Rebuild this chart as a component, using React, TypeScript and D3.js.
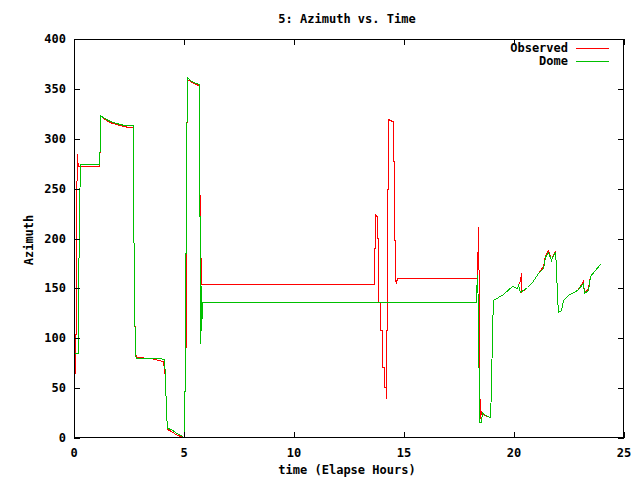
import React from "react";
import * as d3 from "d3";

const title = "5: Azimuth vs. Time";
const xLabel = "time (Elapse Hours)";
const yLabel = "Azimuth";
const seriesNames = ["Observed", "Dome"];
const seriesColors = ["#ff0000", "#00c000"];
const xTicks = [0, 5, 10, 15, 20, 25];
const yTicks = [0, 50, 100, 150, 200, 250, 300, 350, 400];

const obsTime = [0.0, 0.03, 0.03, 0.05, 0.06, 0.08, 0.1, 0.12, 0.14, 0.17, 1.14, 1.16, 1.19, 1.22, 1.3, 1.45, 1.6, 1.75, 1.9, 2.05, 2.25, 2.45, 2.68, 2.7, 2.73, 2.76, 2.8, 3.5, 3.8, 4.05, 4.12, 4.18, 4.24, 4.4, 4.55, 4.7, 4.85, 5.0, 5.04, 5.09, 5.11, 5.14, 5.25, 5.35, 5.5, 5.66, 5.69, 5.7, 5.72, 5.75, 5.78, 13.65, 13.65, 13.68, 13.68, 13.73, 13.75, 13.75, 13.82, 13.82, 13.91, 13.91, 14.0, 14.0, 14.09, 14.09, 14.16, 14.16, 14.2, 14.2, 14.25, 14.25, 14.27, 14.27, 14.45, 14.5, 14.5, 14.55, 14.55, 14.59, 14.59, 14.64, 14.68, 18.3, 18.32, 18.35, 18.37, 18.39, 18.41, 18.44, 18.5, 18.6, 18.75, 18.9, 18.95, 19.0, 19.05, 19.5, 19.91, 20.14, 20.18, 20.25, 20.3, 20.33, 20.59, 20.82, 21.09, 21.3, 21.4, 21.55, 21.68, 21.77, 21.86, 21.91, 21.95, 21.98, 22.14, 22.23, 22.45, 22.86, 23.1, 23.14, 23.18, 23.36, 23.45, 23.68, 23.86];
const obsAz = [88, 88, 72, 65, 85, 122, 230, 285, 280, 273, 273, 299, 324, 323, 321, 319, 317, 316, 315, 314, 313, 312, 312, 255, 141, 85, 81, 80, 78, 77, 60, 26, 9, 7, 5, 3, 2, 1, 91, 91, 270, 360, 358, 357, 355, 354, 301, 289, 204, 160, 154, 154, 190, 190, 225, 223, 223, 201, 201, 136, 136, 108, 108, 71, 71, 51, 51, 40, 40, 108, 108, 250, 250, 320, 318, 318, 278, 278, 198, 198, 158, 156, 160, 160, 173, 200, 212, 128, 60, 20, 27, 24, 22, 21, 50, 108, 138, 144, 152, 150, 153, 158, 165, 146, 151, 156, 165, 172, 183, 188, 178, 184, 187, 171, 141, 126, 128, 138, 143, 148, 155, 157, 145, 150, 162, 168, 173];

const domeTime = [0.0, 0.18, 0.2, 0.23, 0.29, 1.15, 1.17, 1.2, 1.23, 1.32, 1.47, 1.62, 1.78, 1.93, 2.08, 2.28, 2.48, 2.68, 2.7, 2.73, 2.76, 2.8, 3.5, 3.85, 4.08, 4.12, 4.18, 4.24, 4.42, 4.57, 4.72, 4.88, 5.02, 5.05, 5.1, 5.13, 5.17, 5.27, 5.4, 5.55, 5.68, 5.72, 5.74, 5.76, 5.8, 5.84, 18.27, 18.29, 18.32, 18.36, 18.39, 18.52, 18.55, 18.65, 18.75, 18.9, 18.95, 19.0, 19.05, 19.5, 19.91, 20.14, 20.18, 20.27, 20.59, 20.82, 21.09, 21.32, 21.41, 21.55, 21.68, 21.77, 21.86, 21.91, 21.95, 21.98, 22.14, 22.23, 22.45, 22.86, 23.14, 23.18, 23.36, 23.45, 23.68, 23.9];
const domeAz = [85, 85, 131, 228, 275, 275, 299, 324, 323, 322, 320, 318, 317, 316, 315, 314, 314, 314, 255, 141, 83, 80, 80, 80, 79, 60, 26, 10, 9, 6, 4, 3, 0, 91, 270, 362, 361, 359, 357, 356, 355, 95, 200, 108, 130, 136, 136, 143, 163, 128, 16, 16, 26, 24, 22, 21, 50, 108, 138, 144, 152, 150, 153, 146, 151, 156, 165, 170, 181, 186, 178, 183, 186, 171, 141, 126, 128, 138, 143, 148, 155, 145, 148, 162, 168, 174];

const W = 640;
const H = 480;
const left = 74;
const right = 624;
const top = 39;
const bottom = 438;
const FONT = "'DejaVu Sans Mono', monospace";

export default function App() {
  const x = d3.scaleLinear().domain([0, 25]).range([left, right]);
  const y = d3.scaleLinear().domain([0, 400]).range([bottom, top]);
  const line = d3
    .line<[number, number]>()
    .x((d) => Math.round(x(d[0])) + 0.5)
    .y((d) => Math.round(y(d[1])) + 0.5);
  const obs: [number, number][] = obsTime.map((t, i) => [t, obsAz[i]]);
  const dome: [number, number][] = domeTime.map((t, i) => [t, domeAz[i]]);
  const tick = 6;
  const snap = (v: number) => Math.round(v) + 0.5;
  return (
    <svg
      width={W}
      height={H}
      style={{ position: "absolute", left: 0, top: 0, background: "#fff" }}
      fontFamily={FONT}
      fontSize={12}
      fontWeight="bold"
    >
      <rect x={0} y={0} width={W} height={H} fill="#fff" />
      <defs>
        <clipPath id="clip">
          <rect x={left} y={top} width={right - left} height={bottom - top} />
        </clipPath>
      </defs>
      <g clipPath="url(#clip)" shapeRendering="crispEdges">
        <path d={line(obs) || ""} fill="none" stroke={seriesColors[0]} strokeWidth={1} />
        <path d={line(dome) || ""} fill="none" stroke={seriesColors[1]} strokeWidth={1} />
      </g>
      <g stroke="#000" strokeWidth={1} shapeRendering="crispEdges">
        <rect x={left + 0.5} y={top + 0.5} width={right - left - 1} height={bottom - top - 1} fill="none" />
        {xTicks.map((t) => (
          <g key={"x" + t}>
            <line x1={snap(x(t))} x2={snap(x(t))} y1={bottom} y2={bottom - tick} />
            <line x1={snap(x(t))} x2={snap(x(t))} y1={top} y2={top + tick} />
          </g>
        ))}
        {yTicks.map((t) => (
          <g key={"y" + t}>
            <line x1={left} x2={left + tick} y1={snap(y(t))} y2={snap(y(t))} />
            <line x1={right} x2={right - tick} y1={snap(y(t))} y2={snap(y(t))} />
          </g>
        ))}
      </g>
      <g fill="#000">
        {xTicks.map((t) => (
          <text key={"xl" + t} x={x(t)} y={457} textAnchor="middle">
            {t}
          </text>
        ))}
        {yTicks.map((t) => (
          <text key={"yl" + t} x={66} y={y(t) + 4} textAnchor="end">
            {t}
          </text>
        ))}
        <text x={347} y={23} textAnchor="middle">{title}</text>
        <text x={347} y={474} textAnchor="middle">{xLabel}</text>
        <text transform="translate(33,240) rotate(-90)" textAnchor="middle">{yLabel}</text>
        {seriesNames.map((n, i) => (
          <g key={n}>
            <text x={568} y={52 + i * 13} textAnchor="end">{n}</text>
            <line x1={576} x2={609} y1={48.5 + i * 13} y2={48.5 + i * 13} stroke={seriesColors[i]} strokeWidth={1} shapeRendering="crispEdges" />
          </g>
        ))}
      </g>
    </svg>
  );
}
